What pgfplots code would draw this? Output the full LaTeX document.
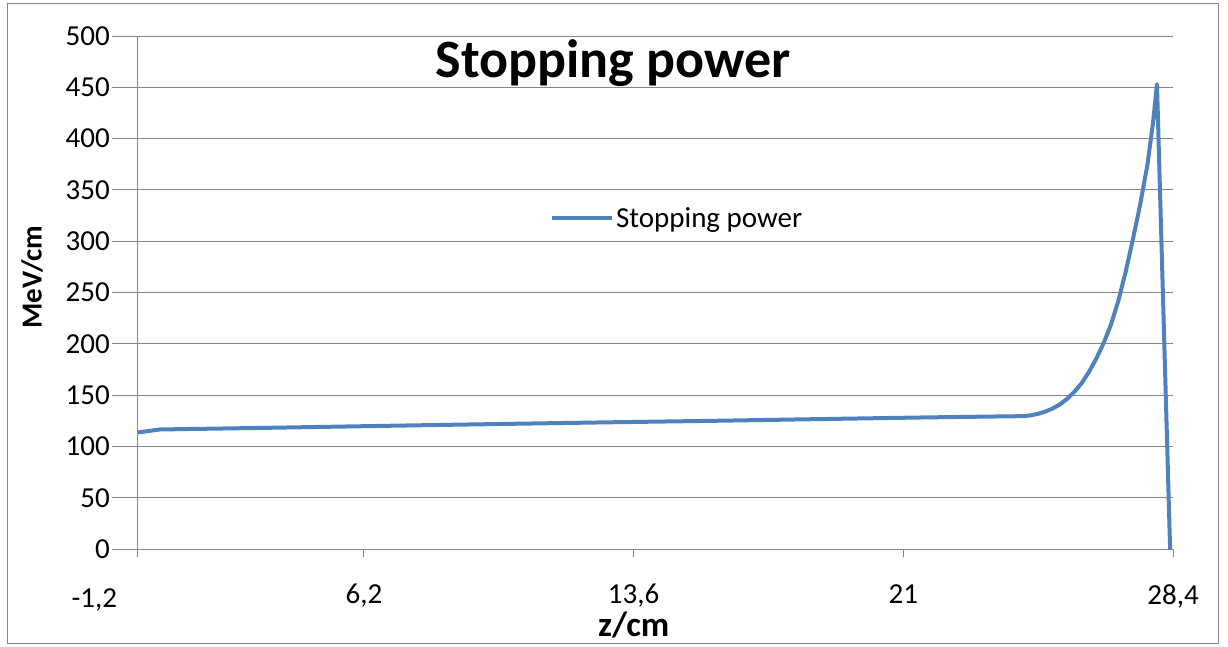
\documentclass[border=0pt]{standalone}
\usepackage{fontspec}
\setmainfont{Carlito}
\usepackage{pgfplots}
\pgfplotsset{compat=1.18}
\definecolor{excelblue}{HTML}{4F81BD}
\definecolor{gridgray}{HTML}{868686}

\begin{document}
\begin{tikzpicture}
\useasboundingbox (-138pt,-97pt) rectangle (1090pt,549pt);
\draw[gridgray, line width=1pt] (-130pt,-94pt) rectangle (1080pt,545pt);
\begin{axis}[
  scale only axis, width=1035pt, height=513pt,
  at={(0pt,0pt)}, anchor=origin,
  xmin=0, xmax=28.4, ymin=0, ymax=500,
  xtick={6.2,13.6,21,28.4},
  xticklabels={6{,}2,13{,}6,21,28{,}4},
  ytick={0,50,...,500},
  axis x line*=bottom, axis y line*=left,
  axis line style={gridgray, line width=1pt},
  ymajorgrids, grid style={gridgray, line width=1pt},
  tick align=outside,
  major tick length=26pt,
  xtick style={draw=none},
  ytick style={draw=none},
  /pgf/number format/assume math mode=true,
  ticklabel style={font=\fontsize{29}{34}\selectfont, inner sep=0pt},
  xticklabel style={anchor=north, yshift=-9pt},
  yticklabel style={anchor=east, xshift=-2pt},
  clip=false,
  title={Stopping power},
  title style={font=\bfseries\fontsize{54}{60}\selectfont, at={(axis description cs:0.459,0.907)}, anchor=base, inner sep=0pt},
  xlabel={z/cm},
  xlabel style={font=\bfseries\fontsize{35}{40}\selectfont, at={(axis description cs:0.479,-0.1715)}, anchor=base, inner sep=0pt},
  ylabel={MeV/cm},
  ylabel style={font=\bfseries\fontsize{29}{34}\selectfont, at={(axis description cs:-0.1024,0.530)}, anchor=center, rotate=0, inner sep=0pt},
  legend style={at={(axis description cs:0.398,0.645)}, anchor=west, draw=none, fill=none, inner sep=0pt,
    font=\fontsize{29}{34}\selectfont},
  legend image code/.code={\draw[#1] (0pt,0pt) -- (60pt,0pt);},
]
\addplot[excelblue, line width=4pt, line join=round] table {
x y
0.00 113.7
0.08 114.0
0.60 116.5
3.70 118.2
6.70 120.0
9.85 121.8
12.95 123.5
15.90 125.0
18.85 126.7
21.70 128.3
24.30 129.5
24.50 130.3
24.70 131.8
24.90 134.0
25.10 137.0
25.30 141.0
25.50 146.5
25.70 153.5
25.90 162.0
26.10 173.0
26.30 186.0
26.50 201.0
26.70 219.0
26.90 242.0
27.10 270.0
27.30 302.0
27.50 336.0
27.70 375.0
27.85 415.0
27.96 453.0
28.32 0.0
};
\addlegendentry{Stopping power}
\pgfplotsinvokeforeach{0,6.2,13.6,21,28.4}{
  \draw[gridgray, line width=1pt] (axis cs:#1,0) -- ++(0pt,-8pt);
}
\pgfplotsinvokeforeach{0,50,100,150,200,250,300,350,400,450,500}{
  \draw[gridgray, line width=1pt] (axis cs:0,#1) -- ++(-26pt,0pt);
}
\node[font=\fontsize{29}{34}\selectfont, inner sep=0pt, anchor=north] at (axis cs:-1.2,0) [yshift=-39pt] {-1,2};
\end{axis}
\end{tikzpicture}
\end{document}
